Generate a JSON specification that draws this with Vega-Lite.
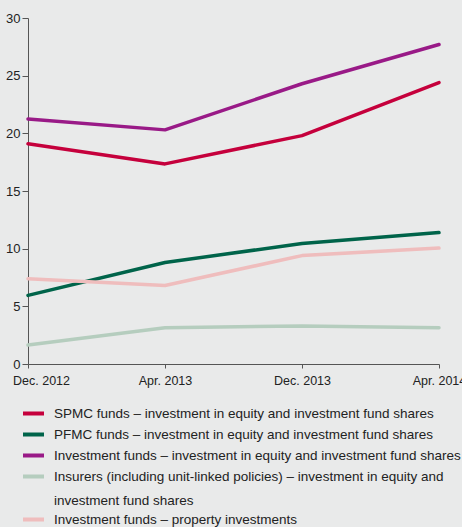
{
  "$schema": "https://vega.github.io/schema/vega-lite/v6.json",
  "width": 411,
  "height": 346,
  "autosize": "none",
  "padding": {"left": 28, "top": 18, "right": 23, "bottom": 163},
  "background": "#e9eaea",
  "config": {"view": {"stroke": null}, "font": "Liberation Sans"},
  "data": {
    "values": [
      {"date": "Dec. 2012", "series": "SPMC funds – investment in equity and investment fund shares", "value": 19.1},
      {"date": "Apr. 2013", "series": "SPMC funds – investment in equity and investment fund shares", "value": 17.35},
      {"date": "Dec. 2013", "series": "SPMC funds – investment in equity and investment fund shares", "value": 19.8},
      {"date": "Apr. 2014", "series": "SPMC funds – investment in equity and investment fund shares", "value": 24.4},
      {"date": "Dec. 2012", "series": "PFMC funds – investment in equity and investment fund shares", "value": 5.95},
      {"date": "Apr. 2013", "series": "PFMC funds – investment in equity and investment fund shares", "value": 8.8},
      {"date": "Dec. 2013", "series": "PFMC funds – investment in equity and investment fund shares", "value": 10.45},
      {"date": "Apr. 2014", "series": "PFMC funds – investment in equity and investment fund shares", "value": 11.4},
      {"date": "Dec. 2012", "series": "Investment funds – investment in equity and investment fund shares", "value": 21.25},
      {"date": "Apr. 2013", "series": "Investment funds – investment in equity and investment fund shares", "value": 20.3},
      {"date": "Dec. 2013", "series": "Investment funds – investment in equity and investment fund shares", "value": 24.3},
      {"date": "Apr. 2014", "series": "Investment funds – investment in equity and investment fund shares", "value": 27.7},
      {"date": "Dec. 2012", "series": "Insurers (including unit-linked policies) – investment in equity and investment fund shares", "value": 1.65},
      {"date": "Apr. 2013", "series": "Insurers (including unit-linked policies) – investment in equity and investment fund shares", "value": 3.15},
      {"date": "Dec. 2013", "series": "Insurers (including unit-linked policies) – investment in equity and investment fund shares", "value": 3.3},
      {"date": "Apr. 2014", "series": "Insurers (including unit-linked policies) – investment in equity and investment fund shares", "value": 3.15},
      {"date": "Dec. 2012", "series": "Investment funds – property investments", "value": 7.4},
      {"date": "Apr. 2013", "series": "Investment funds – property investments", "value": 6.8},
      {"date": "Dec. 2013", "series": "Investment funds – property investments", "value": 9.4},
      {"date": "Apr. 2014", "series": "Investment funds – property investments", "value": 10.05}
    ]
  },
  "mark": {"type": "line", "strokeWidth": 3.5, "strokeCap": "round", "strokeJoin": "round"},
  "encoding": {
    "x": {
      "field": "date",
      "type": "ordinal",
      "sort": ["Dec. 2012", "Apr. 2013", "Dec. 2013", "Apr. 2014"],
      "scale": {"type": "point", "padding": 0},
      "axis": {
        "title": null,
        "labelAngle": 0,
        "domainColor": "#555555",
        "tickColor": "#555555",
        "tickSize": 4,
        "labelPadding": 6,
        "labelFontSize": 12.5,
        "labelColor": "#222222",
        "labelOffset": {"condition": {"test": "datum.value == 'Dec. 2012'", "value": 13}, "value": 0}
      }
    },
    "y": {
      "field": "value",
      "type": "quantitative",
      "scale": {"domain": [0, 30]},
      "axis": {
        "title": null,
        "values": [0, 5, 10, 15, 20, 25, 30],
        "grid": false,
        "domainColor": "#555555",
        "tickColor": "#555555",
        "tickSize": 6,
        "labelPadding": 2,
        "labelFontSize": 13,
        "labelColor": "#222222"
      }
    },
    "color": {
      "field": "series",
      "type": "nominal",
      "scale": {
        "domain": [
          "SPMC funds – investment in equity and investment fund shares",
          "PFMC funds – investment in equity and investment fund shares",
          "Investment funds – investment in equity and investment fund shares",
          "Insurers (including unit-linked policies) – investment in equity and investment fund shares",
          "Investment funds – property investments"
        ],
        "range": ["#c5003c", "#00644a", "#991a87", "#b5cdbe", "#efbdbd"]
      },
      "legend": {
        "title": null,
        "orient": "none",
        "legendX": -7,
        "legendY": 383,
        "direction": "vertical",
        "symbolType": "stroke",
        "symbolStrokeWidth": 4,
        "symbolSize": 441,
        "labelFontSize": 13.5,
        "labelLimit": 460,
        "labelOffset": 8,
        "rowPadding": -2,
        "labelColor": "#222222",
        "labelExpr": "indexof(datum.label, 'Insurers') == 0 ? ['Insurers (including unit-linked policies) – investment in equity and', 'investment fund shares'] : datum.label",
        "encode": {"labels": {"update": {"lineHeight": {"value": 24}}}}
      }
    }
  }
}
